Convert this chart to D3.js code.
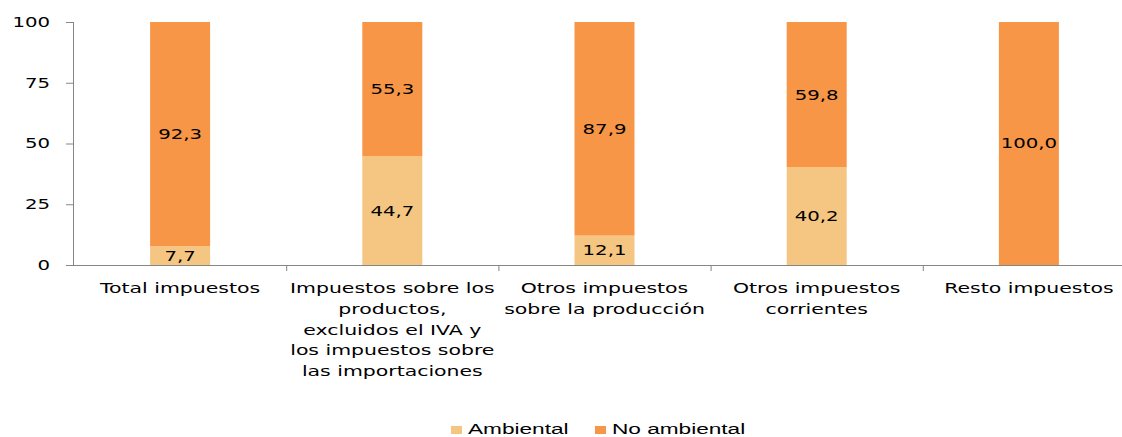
<!DOCTYPE html>
<html>
<head>
  <meta charset="utf-8">
  <title>Impuestos ambientales</title>
  <script src="https://d3js.org/d3.v7.min.js"></script>
  <style>
    body { margin: 0; background: #fff; }
  </style>
</head>
<body>
<script>
  // datos
  var categories = ["Total impuestos", "Impuestos sobre los productos", "Otros impuestos producción", "Otros impuestos corrientes", "Resto impuestos"];
  var catLines = [
    ["Total impuestos"],
    ["Impuestos sobre los", "productos,", "excluidos el IVA y", "los impuestos sobre", "las importaciones"],
    ["Otros impuestos", "sobre la producción"],
    ["Otros impuestos", "corrientes"],
    ["Resto impuestos"]
  ];
  var ambiental = [7.7, 44.7, 12.1, 40.2, 0];
  var noAmbiental = [92.3, 55.3, 87.9, 59.8, 100.0];
  var seriesNames = ["Ambiental", "No ambiental"];
  var seriesColors = ["#F5C582", "#F79646"];
  var yTicks = [0, 25, 50, 75, 100];

  var width = 1122, height = 437;
  var margin = { top: 22, bottom: 172, left: 73, right: -13 };
  var sx = 1.46; // estiramiento horizontal del texto

  var svg = d3.select("body").append("svg").attr("width", width).attr("height", height);

  var x = d3.scaleBand().domain(categories)
    .range([margin.left + 1, width - margin.right]);
  var y = d3.scaleLinear().domain([0, 100]).range([height - margin.bottom, margin.top]);

  var barW = 60;
  var data = categories.map(function(c, i) {
    return { cat: c, vals: [ambiental[i], noAmbiental[i]] };
  });

  function stretchText(sel, px, py) {
    return sel.append("text").attr("transform", "translate(" + px + "," + py + ") scale(" + sx + ",1)");
  }

  // barras
  data.forEach(function(d) {
    var base = 0;
    d.vals.forEach(function(v, k) {
      if (v > 0) {
        svg.append("rect")
          .attr("x", x(d.cat) + x.bandwidth() / 2 - barW / 2)
          .attr("y", y(base + v))
          .attr("width", barW)
          .attr("height", y(base) - y(base + v))
          .attr("fill", seriesColors[k]);
        stretchText(svg, x(d.cat) + x.bandwidth() / 2, (y(base) + y(base + v)) / 2)
          .attr("text-anchor", "middle")
          .attr("dy", "0.36em")
          .attr("font-family", "DejaVu Sans")
          .attr("font-size", "13.5px")
          .attr("fill", "#000")
          .text(d3.format(".1f")(v).replace(".", ","));
      }
      base += v;
    });
  });

  // eje y
  var gy = svg.append("g");
  gy.append("line")
    .attr("x1", margin.left + 0.5).attr("x2", margin.left + 0.5)
    .attr("y1", y(100)).attr("y2", y(0))
    .attr("stroke", "#868686");
  yTicks.forEach(function(t) {
    gy.append("line")
      .attr("x1", margin.left - 7).attr("x2", margin.left)
      .attr("y1", y(t) + 0.5).attr("y2", y(t) + 0.5)
      .attr("stroke", "#868686");
    stretchText(gy, 50, y(t))
      .attr("text-anchor", "end")
      .attr("dy", "0.36em")
      .attr("font-family", "DejaVu Sans")
      .attr("font-size", "13.5px")
      .attr("fill", "#000")
      .text(t);
  });

  // eje x
  var gx = svg.append("g");
  gx.append("line")
    .attr("x1", margin.left).attr("x2", width)
    .attr("y1", y(0) + 0.5).attr("y2", y(0) + 0.5)
    .attr("stroke", "#868686");
  categories.forEach(function(c, i) {
    if (i > 0) {
      gx.append("line")
        .attr("x1", x(c) + 0.5).attr("x2", x(c) + 0.5)
        .attr("y1", y(0)).attr("y2", y(0) + 6)
        .attr("stroke", "#868686");
    }
    var t = stretchText(gx, x(c) + x.bandwidth() / 2, y(0) + 28)
      .attr("text-anchor", "middle")
      .attr("font-family", "DejaVu Sans")
      .attr("font-size", "14px")
      .attr("fill", "#000");
    catLines[i].forEach(function(l, j) {
      t.append("tspan").attr("x", 0).attr("y", j * 20.8).text(l);
    });
  });

  // leyenda
  var legX = [451, 595];
  seriesNames.forEach(function(n, k) {
    svg.append("rect")
      .attr("x", legX[k]).attr("y", 426)
      .attr("width", 11).attr("height", 8)
      .attr("fill", seriesColors[k]);
    stretchText(svg, legX[k] + 17, 434)
      .attr("font-family", "Liberation Sans")
      .attr("font-size", "15.5px")
      .attr("fill", "#000")
      .text(n);
  });
</script>
</body>
</html>
